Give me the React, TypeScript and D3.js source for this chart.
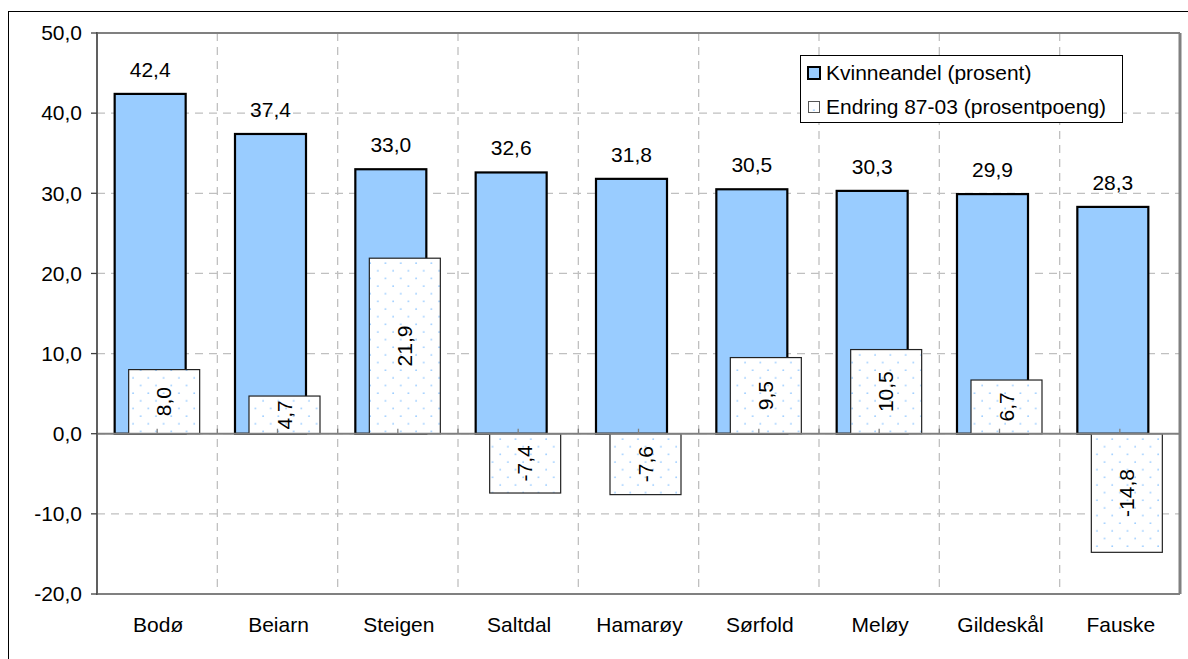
import React from "react";
import * as d3 from "d3";

const categories = ["Bodø", "Beiarn", "Steigen", "Saltdal", "Hamarøy", "Sørfold", "Meløy", "Gildeskål", "Fauske"];
const kvinneandel = [42.4, 37.4, 33.0, 32.6, 31.8, 30.5, 30.3, 29.9, 28.3];
const endring = [8.0, 4.7, 21.9, -7.4, -7.6, 9.5, 10.5, 6.7, -14.8];
const yTicks = [-20, -10, 0, 10, 20, 30, 40, 50];
const seriesNames = ["Kvinneandel (prosent)", "Endring 87-03 (prosentpoeng)"];

const W = 1188;
const H = 659;
const plot = { left: 97, right: 1180, top: 33, bottom: 594 };
const FONT = "'Liberation Sans', Arial, sans-serif";
const FS = 20;
const SX = 1.05;
const BLUE = "#99CCFF";

const fmt = (v: number) => v.toFixed(1).replace(".", ",");

export default function App() {
  const x = d3.scaleBand<string>().domain(categories).range([plot.left, plot.right]).padding(0);
  const y = d3.scaleLinear().domain([-20, 50]).range([plot.bottom, plot.top]);
  const bw = x.bandwidth();
  const barW = 71;
  const shift = 7;
  const y0 = y(0);

  const txt = (
    key: string,
    tx: number,
    ty: number,
    s: string,
    anchor: "start" | "middle" | "end",
    rotate = 0,
    baseline: string = "alphabetic"
  ) => (
    <text
      key={key}
      transform={`translate(${tx},${ty})${rotate ? ` rotate(${rotate})` : ""} scale(${SX},1)`}
      textAnchor={anchor}
      dominantBaseline={baseline}
      fontFamily={FONT}
      fontSize={FS}
      fill="#000"
    >
      {s}
    </text>
  );

  const halfTicks: number[] = [];
  for (let i = 0; i <= categories.length * 2; i++) halfTicks.push(plot.left + (i * bw) / 2);

  return (
    <svg
      width={W}
      height={H}
      style={{ position: "absolute", left: 0, top: 0, background: "#fff" }}
    >
      <defs>
        <pattern id="dots" width={15.3} height={15.3} patternUnits="userSpaceOnUse">
          <rect width={15.3} height={15.3} fill="#fff" />
          <circle cx={3} cy={3} r={0.9} fill={BLUE} />
          <circle cx={10.65} cy={10.65} r={0.9} fill={BLUE} />
        </pattern>
      </defs>

      {/* chart frame */}
      <rect x={8.5} y={11.5} width={1190} height={670} fill="#fff" stroke="#000" strokeWidth={1} />

      {/* gridlines */}
      {yTicks.map((t) => (
        <line
          key={"gy" + t}
          x1={plot.left}
          x2={plot.right}
          y1={y(t)}
          y2={y(t)}
          stroke="#C0C0C0"
          strokeWidth={1.3}
          strokeDasharray="8,6"
        />
      ))}
      {categories.map((c, i) =>
        i === 0 ? null : (
          <line
            key={"gx" + c}
            x1={x(c)!}
            x2={x(c)!}
            y1={plot.top}
            y2={plot.bottom}
            stroke="#C0C0C0"
            strokeWidth={1.3}
            strokeDasharray="8,6"
          />
        )
      )}

      {/* plot border */}
      <line x1={plot.left} x2={plot.right} y1={plot.top} y2={plot.top} stroke="#808080" strokeWidth={2} />
      <line x1={plot.right} x2={plot.right} y1={plot.top} y2={plot.bottom} stroke="#808080" strokeWidth={3} />
      <line x1={plot.left} x2={plot.right} y1={plot.bottom} y2={plot.bottom} stroke="#808080" strokeWidth={2} />

      {/* Kvinneandel bars */}
      {categories.map((c, i) => {
        const cx = x(c)! + bw / 2 - shift;
        const v = kvinneandel[i];
        return (
          <rect
            key={"k" + c}
            x={cx - barW / 2}
            y={y(v)}
            width={barW}
            height={y0 - y(v)}
            fill={BLUE}
            stroke="#000"
            strokeWidth={2.2}
          />
        );
      })}

      {/* Endring bars */}
      {categories.map((c, i) => {
        const cx = x(c)! + bw / 2 + shift;
        const v = endring[i];
        const top = Math.min(y(v), y0);
        return (
          <rect
            key={"e" + c}
            x={cx - barW / 2}
            y={top}
            width={barW}
            height={Math.abs(y0 - y(v))}
            fill="url(#dots)"
            stroke="#222"
            strokeWidth={1.2}
          />
        );
      })}

      {/* axes */}
      <line x1={plot.left} x2={plot.right} y1={y0} y2={y0} stroke="#808080" strokeWidth={2} />
      {halfTicks.map((t, i) => (
        <line key={"xt" + i} x1={t} x2={t} y1={y0} y2={y0 - 5} stroke="#808080" strokeWidth={1.3} />
      ))}
      <line x1={plot.left} x2={plot.left} y1={plot.top - 1} y2={plot.bottom + 1} stroke="#606060" strokeWidth={2} />
      {yTicks.map((t) => (
        <line key={"yt" + t} x1={plot.left - 6} x2={plot.left} y1={y(t)} y2={y(t)} stroke="#404040" strokeWidth={1.3} />
      ))}
      {yTicks.map((t) => txt("yl" + t, 82, y(t), fmt(t), "end", 0, "central"))}

      {/* value labels */}
      {categories.map((c, i) =>
        txt("kl" + c, x(c)! + bw / 2 - shift, y(kvinneandel[i]) - 17, fmt(kvinneandel[i]), "middle")
      )}
      {categories.map((c, i) => {
        const v = endring[i];
        const mid = (y(v) + y0) / 2;
        return txt("el" + c, x(c)! + bw / 2 + shift, mid, fmt(v), "middle", -90, "central");
      })}

      {/* category labels */}
      {categories.map((c) => txt("c" + c, x(c)! + bw / 2 + 1, 632, c, "middle"))}

      {/* legend */}
      <rect x={800.5} y={55.5} width={322} height={67} fill="#fff" stroke="#000" strokeWidth={1} />
      <rect x={808} y={67} width={12} height={12} fill={BLUE} stroke="#000" strokeWidth={2} />
      <rect x={808.5} y={101.5} width={11} height={11} fill="url(#dots)" stroke="#555" strokeWidth={1} />
      {txt("lg0", 826, 73, seriesNames[0], "start", 0, "central")}
      {txt("lg1", 826, 107, seriesNames[1], "start", 0, "central")}
    </svg>
  );
}
